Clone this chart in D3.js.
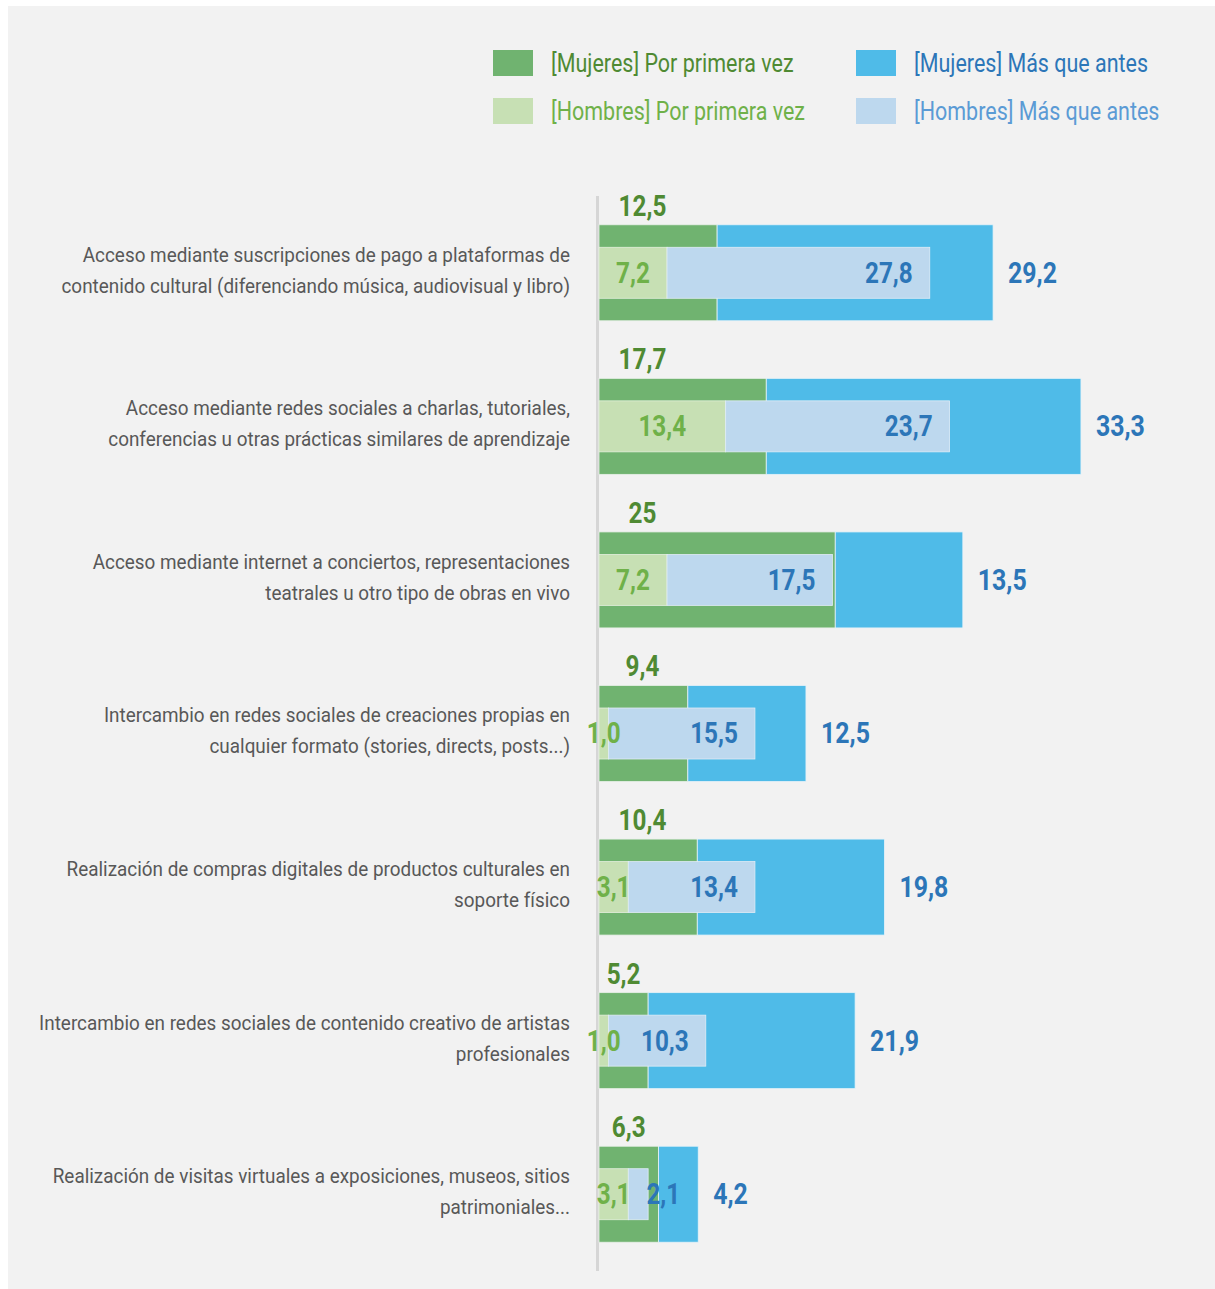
<!DOCTYPE html>
<html>
<head>
<meta charset="utf-8">
<script src="https://cdn.jsdelivr.net/npm/d3@7"></script>
<style>
  html, body { margin: 0; padding: 0; background: #ffffff; }
  svg { display: block; }
  text { font-family: "Roboto", "Liberation Sans", sans-serif; }
</style>
</head>
<body>
<svg id="chart" width="1215" height="1289"></svg>
<script>
// Categories (each split into the two lines shown on the axis)
const categories = [
  ["Acceso mediante suscripciones de pago a plataformas de", "contenido cultural (diferenciando música, audiovisual y libro)"],
  ["Acceso mediante redes sociales a charlas, tutoriales,", "conferencias u otras prácticas similares de aprendizaje"],
  ["Acceso mediante internet a conciertos, representaciones", "teatrales u otro tipo de obras en vivo"],
  ["Intercambio en redes sociales de creaciones propias en", "cualquier formato (stories, directs, posts...)"],
  ["Realización de compras digitales de productos culturales en", "soporte físico"],
  ["Intercambio en redes sociales de contenido creativo de artistas", "profesionales"],
  ["Realización de visitas virtuales a exposiciones, museos, sitios", "patrimoniales..."]
];

// Percentages
const mujeresPrimeraVez = [12.5, 17.7, 25, 9.4, 10.4, 5.2, 6.3];
const mujeresMasQueAntes = [29.2, 33.3, 13.5, 12.5, 19.8, 21.9, 4.2];
const hombresPrimeraVez = [7.2, 13.4, 7.2, 1.0, 3.1, 1.0, 3.1];
const hombresMasQueAntes = [27.8, 23.7, 17.5, 15.5, 13.4, 10.3, 2.1];

const legendLabels = [
  "[Mujeres] Por primera vez", "[Hombres] Por primera vez",
  "[Mujeres] Más que antes", "[Hombres] Más que antes"
];

const C = {
  mPrim: "#70b370", hPrim: "#c7e0b4", mMas: "#4fbbe8", hMas: "#bdd8ee",
  tMPrim: "#4f8a33", tHPrim: "#6fb149", tMMas: "#2c76b8", tHMas: "#5b9bd5",
  axis: "#d6d6d6", label: "#585858", bg: "#f2f2f2"
};

const fmt = v => d3.format(".1f")(v).replace(".", ",");
const fmtTop = v => (Number.isInteger(v) ? String(v) : fmt(v));

// Horizontal squeeze about the anchor x, giving Roboto a condensed look
function condense(sel, sx, ax) {
  sel.attr("transform", function (d, i) {
    const a = typeof ax === "function" ? ax(d, i) : ax;
    return `translate(${a},0) scale(${sx},1) translate(${-a},0)`;
  });
}

const svg = d3.select("#chart");
svg.append("rect").attr("x", 8).attr("y", 6).attr("width", 1207).attr("height", 1283).attr("fill", C.bg);

const x0 = 599;
const x = d3.scaleLinear().domain([0, 10]).range([x0, x0 + 94.5]);
const y = d3.scaleBand().domain(d3.range(categories.length))
  .range([196, 1271]).paddingInner(0.375).paddingOuter(0.1875);
const bw = y.bandwidth();
const menH = 51;

// Axis line
svg.append("line").attr("x1", 597.5).attr("x2", 597.5)
  .attr("y1", y.range()[0]).attr("y2", y.range()[1])
  .attr("stroke", C.axis).attr("stroke-width", 3);

const rows = svg.append("g").selectAll("g").data(d3.range(categories.length)).join("g");

// Women bars (outer)
rows.append("rect")
  .attr("x", i => x(0)).attr("y", i => y(i))
  .attr("width", i => x(mujeresPrimeraVez[i]) - x(0)).attr("height", bw)
  .attr("fill", C.mPrim).attr("stroke", "#e8f0e8").attr("stroke-width", 0.8);
rows.append("rect")
  .attr("x", i => x(mujeresPrimeraVez[i])).attr("y", i => y(i))
  .attr("width", i => x(mujeresPrimeraVez[i] + mujeresMasQueAntes[i]) - x(mujeresPrimeraVez[i])).attr("height", bw)
  .attr("fill", C.mMas).attr("stroke", "#e6f2f8").attr("stroke-width", 0.8);

// Men bars (inner)
const cy = i => y(i) + bw / 2;
rows.append("rect")
  .attr("x", i => x(0)).attr("y", i => cy(i) - menH / 2)
  .attr("width", i => x(hombresPrimeraVez[i]) - x(0)).attr("height", menH)
  .attr("fill", C.hPrim).attr("stroke", "#e4efdc").attr("stroke-width", 0.8);
rows.append("rect")
  .attr("x", i => x(hombresPrimeraVez[i])).attr("y", i => cy(i) - menH / 2)
  .attr("width", i => x(hombresPrimeraVez[i] + hombresMasQueAntes[i]) - x(hombresPrimeraVez[i])).attr("height", menH)
  .attr("fill", C.hMas).attr("stroke", "#e0ecf6").attr("stroke-width", 0.8);

// Category labels
rows.append("text")
  .attr("text-anchor", "end").attr("fill", C.label).attr("font-size", 21)
  .call(condense, 0.9, 570)
  .selectAll("tspan").data(i => categories[i].map(t => ({ t, i }))).join("tspan")
  .attr("x", 570)
  .attr("y", (d, k) => cy(d.i) - 11 + k * 31)
  .text(d => d.t);

const valFont = 30;
const valSx = 0.81;
// Women "por primera vez" above bar
const topX = i => x(Math.min(mujeresPrimeraVez[i] / 2, 4.6));
rows.append("text")
  .attr("x", topX)
  .attr("y", i => y(i) - 9)
  .attr("text-anchor", "middle").attr("font-weight", "bold").attr("font-size", valFont)
  .attr("fill", C.tMPrim)
  .call(condense, valSx, topX)
  .text(i => fmtTop(mujeresPrimeraVez[i]));

// Women "más que antes" after bar
const endX = i => x(mujeresPrimeraVez[i] + mujeresMasQueAntes[i]) + 15;
rows.append("text")
  .attr("x", endX)
  .attr("y", cy).attr("dy", "0.33em")
  .attr("font-weight", "bold").attr("font-size", valFont).attr("fill", C.tMMas)
  .call(condense, 0.83, endX)
  .text(i => fmt(mujeresMasQueAntes[i]));

// Men "por primera vez" centred on its segment
const hpX = i => x(hombresPrimeraVez[i] / 2);
rows.append("text")
  .attr("x", hpX)
  .attr("y", cy).attr("dy", "0.33em")
  .attr("text-anchor", "middle").attr("font-weight", "bold").attr("font-size", valFont)
  .attr("fill", C.tHPrim)
  .call(condense, valSx, hpX)
  .text(i => fmt(hombresPrimeraVez[i]));

// Men "más que antes" near the end of its segment
const hmX = i => Math.max(x(hombresPrimeraVez[i] + hombresMasQueAntes[i]) - 17, x(hombresPrimeraVez[i]) + 52);
rows.append("text")
  .attr("x", hmX)
  .attr("y", cy).attr("dy", "0.33em")
  .attr("text-anchor", "end").attr("font-weight", "bold").attr("font-size", valFont)
  .attr("fill", C.tMMas)
  .call(condense, valSx, hmX)
  .text(i => fmt(hombresMasQueAntes[i]));

// Legend
const legend = [
  { c: C.mPrim, t: C.tMPrim, x: 493, y: 50 },
  { c: C.hPrim, t: C.tHPrim, x: 493, y: 98 },
  { c: C.mMas, t: C.tMMas, x: 856, y: 50 },
  { c: C.hMas, t: C.tHMas, x: 856, y: 98 }
];
const lg = svg.append("g").selectAll("g").data(legend).join("g");
lg.append("rect").attr("x", d => d.x).attr("y", d => d.y).attr("width", 40).attr("height", 26).attr("fill", d => d.c);
lg.append("text").attr("x", d => d.x + 58).attr("y", d => d.y + 13).attr("dy", "0.36em")
  .attr("font-size", 25).attr("fill", d => d.t)
  .call(condense, 0.86, d => d.x + 58)
  .text((d, k) => legendLabels[k]);
</script>
</body>
</html>
